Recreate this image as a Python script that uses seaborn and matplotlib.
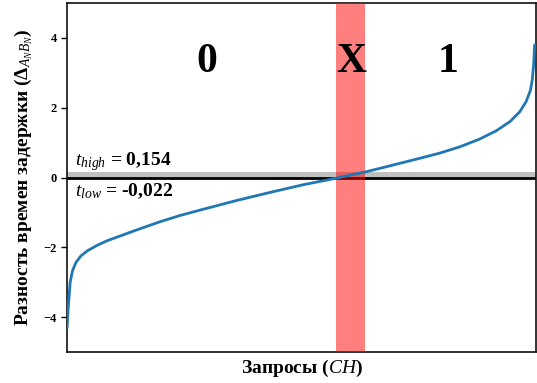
import numpy as np
import pandas as pd
import matplotlib
matplotlib.use("Agg")
import matplotlib.pyplot as plt
import seaborn as sns

# -----------------------------
# Data
# -----------------------------

# rank of a query in the sorted list, percent of all queries
rank_pct = [0.0, 0.2, 0.4, 0.64, 1.13, 1.86, 2.92, 4.33, 6.46, 8.6, 11.45,
            14.3, 16.4, 19.8, 24.1, 29.1, 36.2, 43.3, 50.4, 57.5, 63.8,
            68.9, 76.0, 79.7, 84.0, 88.2, 91.8, 94.7, 96.8, 98.2, 99.1,
            99.5, 99.8, 100.0]

# delay difference Delta_{A_N B_N}
delta = [-4.3, -3.8, -3.45, -3.01, -2.68, -2.44, -2.25, -2.1, -1.94, -1.81,
         -1.67, -1.53, -1.43, -1.27, -1.09, -0.91, -0.66, -0.43, -0.21, -0.02,
         0.16, 0.33, 0.57, 0.70, 0.88, 1.1, 1.34, 1.6, 1.88, 2.18, 2.5,
         2.8, 3.25, 3.8]

t_low = -0.022
t_high = 0.154

# uncertain zone "X" (ranks where t_low <= delta <= t_high)
zone_x = [57.6, 63.8]

region_labels = ["0", "X", "1"]
region_pos = [29.9, 60.7, 81.4]

df = pd.DataFrame({"rank": rank_pct, "delta": delta})

# -----------------------------
# Style
# -----------------------------

sns.set_theme(style="ticks")
plt.rcParams["font.family"] = ["Liberation Serif", "DejaVu Serif"]
plt.rcParams["font.weight"] = "bold"
plt.rcParams["text.color"] = "black"
plt.rcParams["axes.labelcolor"] = "black"
plt.rcParams["ytick.color"] = "black"
plt.rcParams["mathtext.fontset"] = "custom"
plt.rcParams["mathtext.rm"] = "Liberation Serif:normal"
plt.rcParams["mathtext.it"] = "Liberation Serif:italic:normal"
plt.rcParams["mathtext.bf"] = "Liberation Serif:bold"

fig = plt.figure(figsize=(5.37, 3.83), dpi=100)
ax = fig.add_axes([0.125, 0.081, 0.873, 0.911])

# -----------------------------
# Plot
# -----------------------------

ax.axhspan(t_low, t_high, color="#c0c0c0", lw=0, zorder=1)
ax.axhline(0, color="black", lw=2, zorder=2)
ax.axvspan(zone_x[0], zone_x[1], color="red", alpha=0.5, lw=0, zorder=3)

sns.lineplot(data=df, x="rank", y="delta", color="#1f77b4", lw=2,
             ax=ax, zorder=4)

for lab, xp in zip(region_labels, region_pos):
    ax.text(xp, 3.3, lab, fontsize=30, fontweight="bold",
            ha="center", va="center", zorder=5)

ax.text(1.7, 0.34, r"$t_{high}$ = 0,154", fontsize=14, fontweight="bold",
        ha="left", va="baseline", zorder=5)
ax.text(1.7, -0.53, r"$t_{low}$ = -0,022", fontsize=14, fontweight="bold",
        ha="left", va="baseline", zorder=5)

ax.set_xlim(0, 100.28)
ax.set_ylim(-5, 5)
ax.set_yticks([-4, -2, 0, 2, 4])
ax.set_xticks([])
ax.tick_params(axis="y", labelsize=9, length=4, width=1)
for lbl in ax.get_yticklabels():
    lbl.set_fontweight("bold")

ax.set_xlabel(r"Запросы ($CH$)", fontsize=14, fontweight="bold", labelpad=4)
ax.set_ylabel(r"Разность времен задержки ($\mathbf{\Delta}_{A_N B_N}$)",
              fontsize=14, fontweight="bold", labelpad=6)

for s in ax.spines.values():
    s.set_color("#111111")
    s.set_linewidth(1.2)

fig.savefig("out.png", dpi=100)
